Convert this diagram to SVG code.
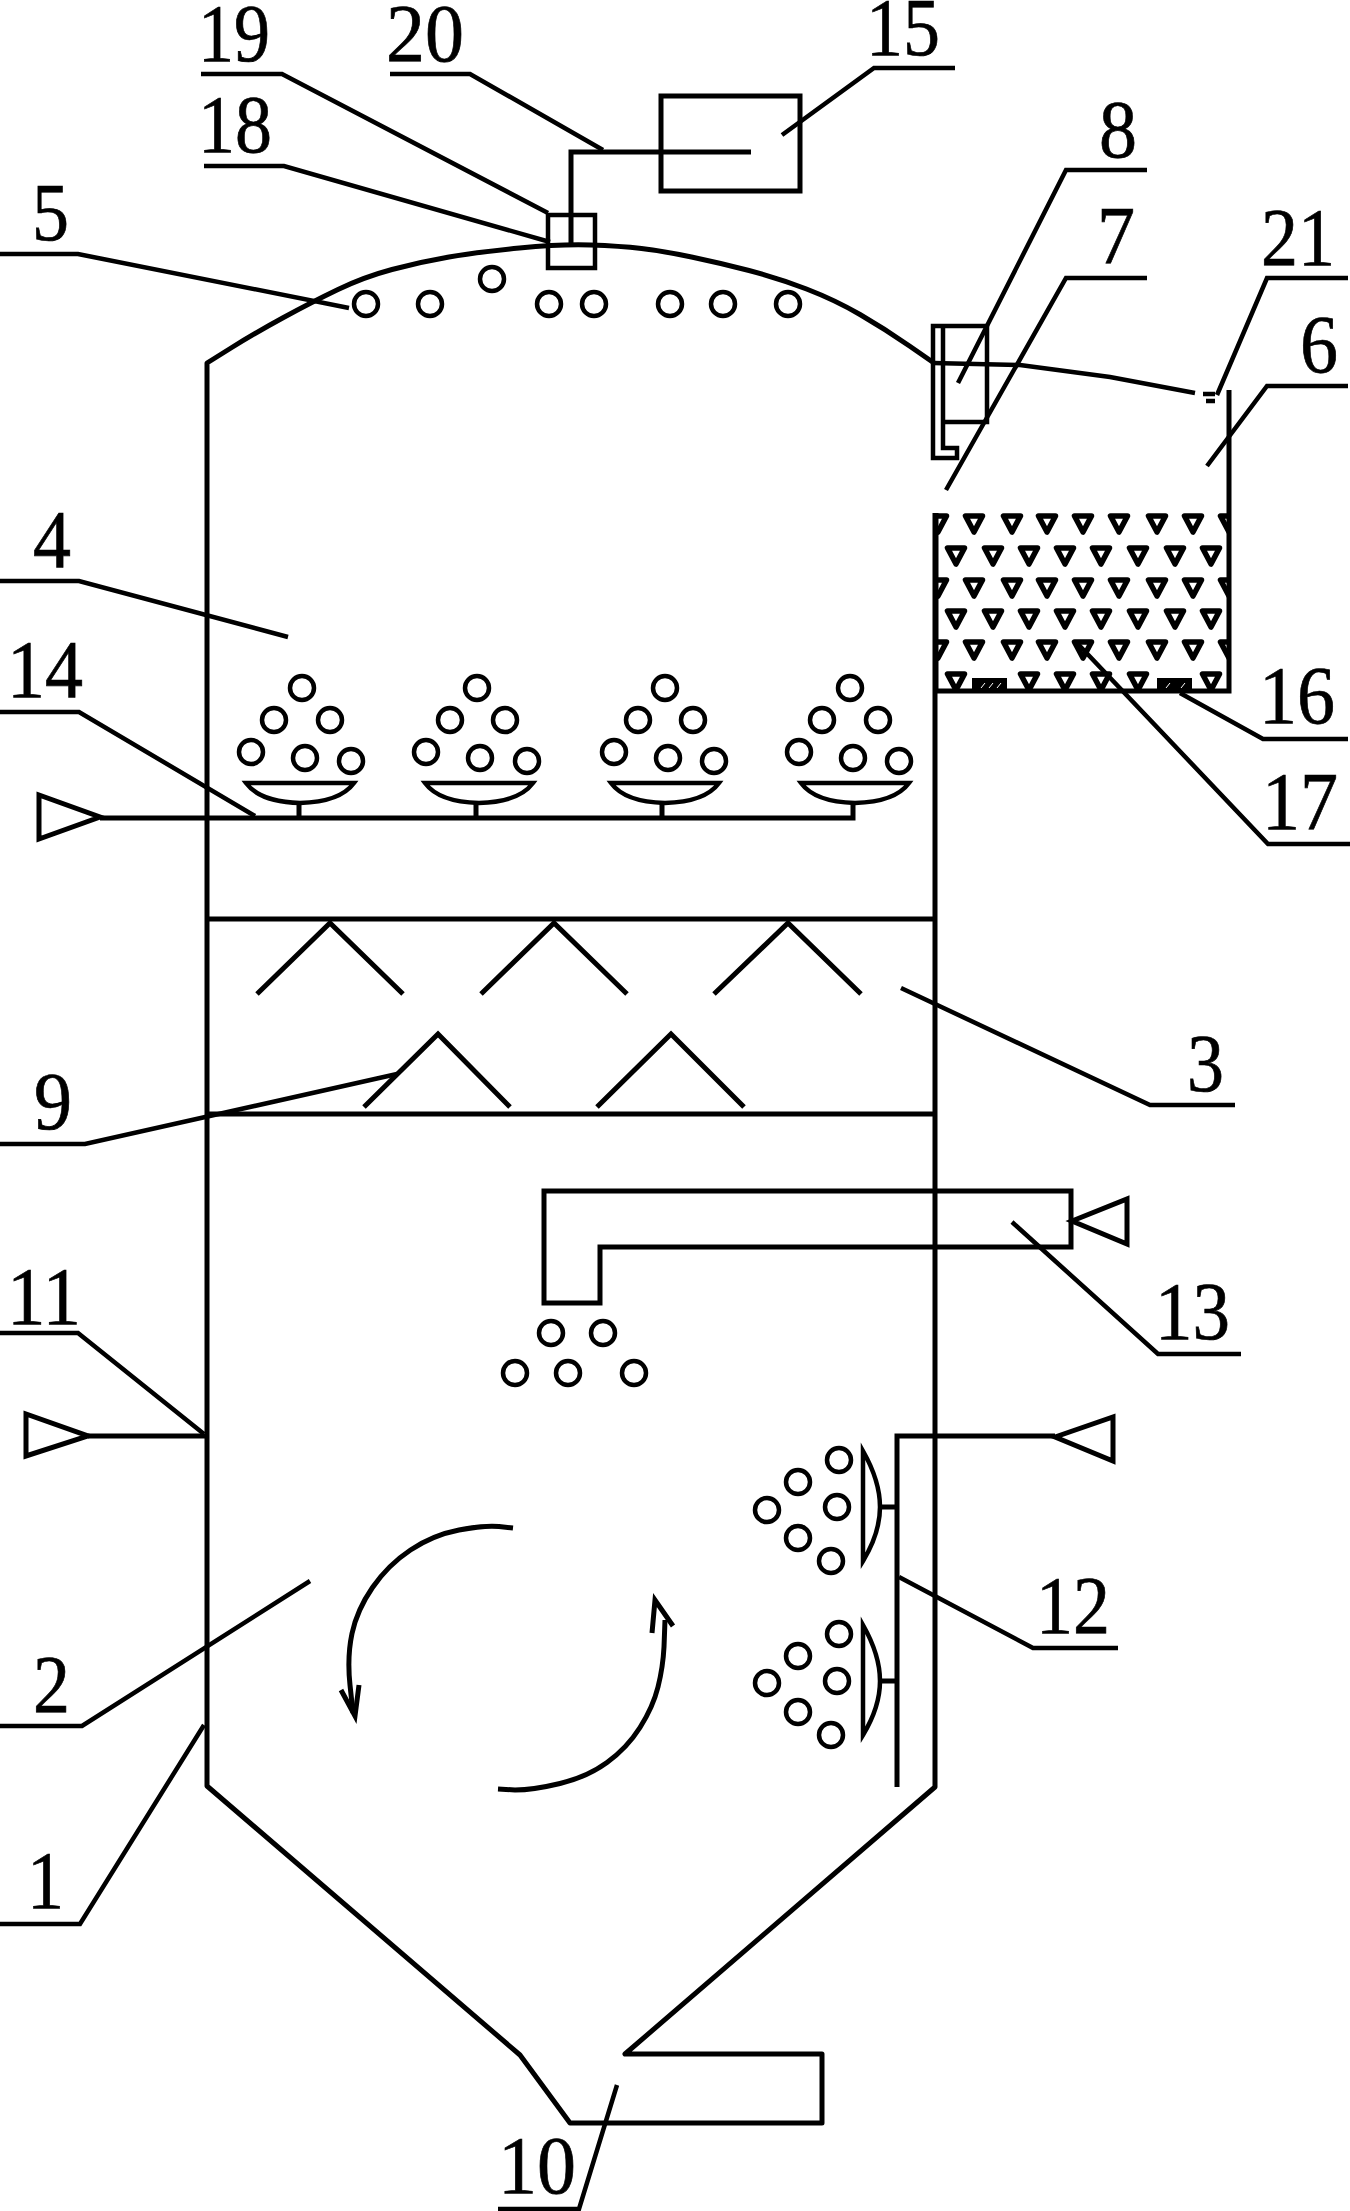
<svg xmlns="http://www.w3.org/2000/svg" xmlns:xlink="http://www.w3.org/1999/xlink" width="1350" height="2211" viewBox="0 0 1350 2211">
<style>
.l{fill:none;stroke:#000;stroke-width:5}
.t{fill:none;stroke:#000;stroke-width:4.5}
.c{fill:none;stroke:#000;stroke-width:4.5}
.h{stroke:#fff;stroke-width:1;fill:none}
text{font-family:"Liberation Serif","Times New Roman",serif;font-size:82px;fill:#000;stroke:#000;stroke-width:0.7}
</style>
<defs>
<polygon id="tri" points="-8.5,3 8.5,3 0,19" style="fill:none;stroke:#000;stroke-width:5.5;stroke-linejoin:round"/>
<circle id="o" r="12" class="c"/>
<path id="bowl" d="M-54,0 H54 Q40,19 0,20 Q-40,19 -54,0 Z" class="c"/>
<path id="noz" d="M0,0 V110 Q17,82 17,56 Q17,30 0,0 Z" class="c"/>
<clipPath id="box"><rect x="936" y="505" width="294" height="186"/></clipPath>
</defs>
<rect width="1350" height="2211" fill="#fff"/>

<g id="vessel-1">
<path class="l" d="M935,513 V1787 L625,2054 H822 V2123 H570 L520,2055 L207,1786 V363 L231,348 Q255,333 283.5,317.5 Q312,302 338,289.5 Q364,277 392,269.5 Q420,262 449,257 Q478,252 519.5,248 Q561,244 590.5,245 Q620,246 641.5,248.5 Q663,251 691.5,257 Q720,263 749,270.5 Q778,278 806.5,289 Q835,300 860,314.5 Q885,329 909.5,346 L934,363" stroke-linejoin="round"/>
</g>
<g id="plates-3">
<path class="l" d="M207,919 H935 M207,1114 H935"/>
</g>
<g id="baffles-9">
<path class="l" d="M257,994 L330,923 L403,994 M481,994 L554,923 L627,994 M714,994 L788,923 L861,994 M364,1107 L438,1034 L510,1107 M597,1107 L671,1034 L744,1107"/>
</g>
<g id="pipe-14">
<path class="l" d="M100,818 H853 V802 M299,818 V802 M476,818 V802 M662,818 V802"/>
<polygon class="l" points="39,795 39,839 100,817"/>
<use xlink:href="#bowl" href="#bowl" x="300" y="783"/>
<use xlink:href="#bowl" href="#bowl" x="479" y="783"/>
<use xlink:href="#bowl" href="#bowl" x="665" y="783"/>
<use xlink:href="#bowl" href="#bowl" x="855" y="783"/>
</g>
<g id="spray-4">
<use xlink:href="#o" href="#o" x="302" y="688"/><use xlink:href="#o" href="#o" x="274" y="720"/><use xlink:href="#o" href="#o" x="330" y="720"/><use xlink:href="#o" href="#o" x="251" y="752"/><use xlink:href="#o" href="#o" x="305" y="758"/><use xlink:href="#o" href="#o" x="351" y="761"/>
<use xlink:href="#o" href="#o" x="477" y="688"/><use xlink:href="#o" href="#o" x="450" y="720"/><use xlink:href="#o" href="#o" x="505" y="720"/><use xlink:href="#o" href="#o" x="426" y="752"/><use xlink:href="#o" href="#o" x="480" y="758"/><use xlink:href="#o" href="#o" x="527" y="761"/>
<use xlink:href="#o" href="#o" x="665" y="688"/><use xlink:href="#o" href="#o" x="638" y="720"/><use xlink:href="#o" href="#o" x="693" y="720"/><use xlink:href="#o" href="#o" x="614" y="752"/><use xlink:href="#o" href="#o" x="668" y="758"/><use xlink:href="#o" href="#o" x="714" y="761"/>
<use xlink:href="#o" href="#o" x="850" y="688"/><use xlink:href="#o" href="#o" x="822" y="720"/><use xlink:href="#o" href="#o" x="878" y="720"/><use xlink:href="#o" href="#o" x="799" y="752"/><use xlink:href="#o" href="#o" x="853" y="758"/><use xlink:href="#o" href="#o" x="899" y="761"/>
</g>
<g id="droplets-5">
<use xlink:href="#o" href="#o" x="366" y="304"/><use xlink:href="#o" href="#o" x="430" y="304"/><use xlink:href="#o" href="#o" x="492" y="279"/><use xlink:href="#o" href="#o" x="549" y="304"/><use xlink:href="#o" href="#o" x="594" y="304"/><use xlink:href="#o" href="#o" x="670" y="304"/><use xlink:href="#o" href="#o" x="723" y="304"/><use xlink:href="#o" href="#o" x="788" y="304"/>
</g>
<g id="controller-15">
<rect class="l" x="661" y="96" width="139" height="95"/>
<path class="l" d="M751,152 H571 V243"/>
</g>
<g id="sensor-18-19">
<rect class="t" x="548" y="215" width="47" height="53"/>
</g>
<g id="fan-7-8">
<path class="t" d="M933,326 V458 H957 V448 H943 V326 Z M943,326 H987 V422 H943"/>
<path class="t" d="M933,363 L1020,365 L1110,377 L1195,393"/>
<path class="t" d="M1203,394 H1215 M1206,401 H1215"/>
</g>
<g id="filter-6">
<path class="l" d="M1229,390 V691 H936 V513"/>
<g clip-path="url(#box)">
<use xlink:href="#tri" href="#tri" x="938" y="513"/><use xlink:href="#tri" href="#tri" x="974" y="513"/><use xlink:href="#tri" href="#tri" x="1012" y="513"/><use xlink:href="#tri" href="#tri" x="1047" y="513"/><use xlink:href="#tri" href="#tri" x="1083" y="513"/><use xlink:href="#tri" href="#tri" x="1119" y="513"/><use xlink:href="#tri" href="#tri" x="1157" y="513"/><use xlink:href="#tri" href="#tri" x="1193" y="513"/><use xlink:href="#tri" href="#tri" x="1229" y="513"/>
<use xlink:href="#tri" href="#tri" x="956" y="545"/><use xlink:href="#tri" href="#tri" x="993" y="545"/><use xlink:href="#tri" href="#tri" x="1029" y="545"/><use xlink:href="#tri" href="#tri" x="1065" y="545"/><use xlink:href="#tri" href="#tri" x="1101" y="545"/><use xlink:href="#tri" href="#tri" x="1138" y="545"/><use xlink:href="#tri" href="#tri" x="1175" y="545"/><use xlink:href="#tri" href="#tri" x="1211" y="545"/>
<use xlink:href="#tri" href="#tri" x="938" y="577"/><use xlink:href="#tri" href="#tri" x="974" y="577"/><use xlink:href="#tri" href="#tri" x="1012" y="577"/><use xlink:href="#tri" href="#tri" x="1047" y="577"/><use xlink:href="#tri" href="#tri" x="1083" y="577"/><use xlink:href="#tri" href="#tri" x="1119" y="577"/><use xlink:href="#tri" href="#tri" x="1157" y="577"/><use xlink:href="#tri" href="#tri" x="1193" y="577"/><use xlink:href="#tri" href="#tri" x="1229" y="577"/>
<use xlink:href="#tri" href="#tri" x="956" y="608"/><use xlink:href="#tri" href="#tri" x="993" y="608"/><use xlink:href="#tri" href="#tri" x="1029" y="608"/><use xlink:href="#tri" href="#tri" x="1065" y="608"/><use xlink:href="#tri" href="#tri" x="1101" y="608"/><use xlink:href="#tri" href="#tri" x="1138" y="608"/><use xlink:href="#tri" href="#tri" x="1175" y="608"/><use xlink:href="#tri" href="#tri" x="1211" y="608"/>
<use xlink:href="#tri" href="#tri" x="938" y="639"/><use xlink:href="#tri" href="#tri" x="974" y="639"/><use xlink:href="#tri" href="#tri" x="1012" y="639"/><use xlink:href="#tri" href="#tri" x="1047" y="639"/><use xlink:href="#tri" href="#tri" x="1083" y="639"/><use xlink:href="#tri" href="#tri" x="1119" y="639"/><use xlink:href="#tri" href="#tri" x="1157" y="639"/><use xlink:href="#tri" href="#tri" x="1193" y="639"/><use xlink:href="#tri" href="#tri" x="1229" y="639"/>
<use xlink:href="#tri" href="#tri" x="956" y="671"/><use xlink:href="#tri" href="#tri" x="1029" y="671"/><use xlink:href="#tri" href="#tri" x="1065" y="671"/><use xlink:href="#tri" href="#tri" x="1101" y="671"/><use xlink:href="#tri" href="#tri" x="1138" y="671"/><use xlink:href="#tri" href="#tri" x="1211" y="671"/>
</g>
</g>
<g id="heater-16">
<rect x="972" y="678" width="35" height="12" fill="#000"/>
<rect x="1157" y="678" width="35" height="12" fill="#000"/>
<path class="h" d="M981,688 l4,-5 M989,688 l4,-5 M997,688 l4,-5 M1166,688 l4,-5 M1181,688 l4,-5"/>
</g>
<g id="pipe-13">
<path class="l" d="M1071,1221 V1191 H544 V1303 H600 V1247 H1071 Z"/>
<polygon class="l" points="1072,1221 1127,1199 1127,1244"/>
<use xlink:href="#o" href="#o" x="551" y="1333"/><use xlink:href="#o" href="#o" x="603" y="1333"/><use xlink:href="#o" href="#o" x="515" y="1373"/><use xlink:href="#o" href="#o" x="568" y="1373"/><use xlink:href="#o" href="#o" x="634" y="1373"/>
</g>
<g id="inlet-11">
<path class="l" d="M88,1436 H207"/>
<polygon class="l" points="26,1414 26,1456 88,1436"/>
</g>
<g id="pipe-12">
<path class="l" d="M1055,1436 H897 V1787 M880,1507 H897 M880,1681 H897"/>
<polygon class="l" points="1055,1437 1113,1417 1113,1461"/>
<use xlink:href="#noz" href="#noz" x="863" y="1451"/>
<use xlink:href="#noz" href="#noz" x="863" y="1625"/>
<use xlink:href="#o" href="#o" x="839" y="1460"/><use xlink:href="#o" href="#o" x="798" y="1482"/><use xlink:href="#o" href="#o" x="837" y="1507"/><use xlink:href="#o" href="#o" x="767" y="1510"/><use xlink:href="#o" href="#o" x="798" y="1538"/><use xlink:href="#o" href="#o" x="831" y="1561"/>
<use xlink:href="#o" href="#o" x="839" y="1634"/><use xlink:href="#o" href="#o" x="798" y="1656"/><use xlink:href="#o" href="#o" x="837" y="1681"/><use xlink:href="#o" href="#o" x="767" y="1683"/><use xlink:href="#o" href="#o" x="798" y="1712"/><use xlink:href="#o" href="#o" x="831" y="1735"/>
</g>
<g id="flow-2">
<path class="l" d="M513,1528 L499,1526.5 Q485,1525 459,1530 Q433,1535 410.5,1550 Q388,1565 372.5,1587.5 Q357,1610 352,1633.5 Q347,1657 350,1685 L353,1713"/>
<path class="l" d="M341,1690 L355,1716 L359,1685"/>
<path class="l" d="M498,1789 L515,1790 Q533,1790 560,1783.5 Q587,1777 607,1762.5 Q627,1748 640,1727.5 Q653,1707 658,1687 Q663,1667 664,1647 L665,1620"/>
<path class="l" d="M652,1633 L655,1600 L673,1626"/>
</g>

<g id="connectors">
<path class="t" d="M201,74 H282 L548,213"/>
<path class="t" d="M390,74 H470 L603,150"/>
<path class="t" d="M955,68 H874 L782,135"/>
<path class="t" d="M204,166 H284 L550,242"/>
<path class="t" d="M0,254 H78 L349,308"/>
<path class="t" d="M1147,170 H1066 L958,383"/>
<path class="t" d="M1147,278 H1066 L946,490"/>
<path class="t" d="M1348,278 H1267 L1217,395"/>
<path class="t" d="M1348,386 H1267 L1207,466"/>
<path class="t" d="M0,581 H79 L288,637"/>
<path class="t" d="M0,712 H79 L255,816"/>
<path class="t" d="M1348,739 H1263 L1180,693"/>
<path class="t" d="M1350,844 H1268 L1077,643"/>
<path class="t" d="M1235,1105 H1150 L901,988"/>
<path class="t" d="M0,1144 H85 L397,1074"/>
<path class="t" d="M1241,1354 H1158 L1012,1222"/>
<path class="t" d="M0,1333 H78 L204,1434"/>
<path class="t" d="M1118,1648 H1033 L899,1577"/>
<path class="t" d="M0,1726 H82 L310,1581"/>
<path class="t" d="M0,1924 H80 L204,1725"/>
<path class="t" d="M498,2209 H579 L617,2085"/>
</g>

<g id="labels">
<text x="198" y="61" textLength="72" lengthAdjust="spacingAndGlyphs">19</text>
<text x="386" y="61" textLength="78" lengthAdjust="spacingAndGlyphs">20</text>
<text x="866" y="55" textLength="74" lengthAdjust="spacingAndGlyphs">15</text>
<text x="198" y="152" textLength="74" lengthAdjust="spacingAndGlyphs">18</text>
<text x="32" y="240" textLength="37" lengthAdjust="spacingAndGlyphs">5</text>
<text x="1099" y="157" textLength="38" lengthAdjust="spacingAndGlyphs">8</text>
<text x="1097" y="263" textLength="38" lengthAdjust="spacingAndGlyphs">7</text>
<text x="1261" y="265" textLength="74" lengthAdjust="spacingAndGlyphs">21</text>
<text x="1300" y="372" textLength="38" lengthAdjust="spacingAndGlyphs">6</text>
<text x="33" y="567" textLength="38" lengthAdjust="spacingAndGlyphs">4</text>
<text x="7" y="697" textLength="76" lengthAdjust="spacingAndGlyphs">14</text>
<text x="1259" y="723" textLength="76" lengthAdjust="spacingAndGlyphs">16</text>
<text x="1262" y="829" textLength="76" lengthAdjust="spacingAndGlyphs">17</text>
<text x="1187" y="1091" textLength="37" lengthAdjust="spacingAndGlyphs">3</text>
<text x="34" y="1129" textLength="38" lengthAdjust="spacingAndGlyphs">9</text>
<text x="1155" y="1339" textLength="75" lengthAdjust="spacingAndGlyphs">13</text>
<text x="7" y="1324" textLength="74" lengthAdjust="spacingAndGlyphs">11</text>
<text x="1036" y="1633" textLength="74" lengthAdjust="spacingAndGlyphs">12</text>
<text x="33" y="1712" textLength="37" lengthAdjust="spacingAndGlyphs">2</text>
<text x="27" y="1908" textLength="37" lengthAdjust="spacingAndGlyphs">1</text>
<text x="498" y="2193" textLength="78" lengthAdjust="spacingAndGlyphs">10</text>
</g>
</svg>
